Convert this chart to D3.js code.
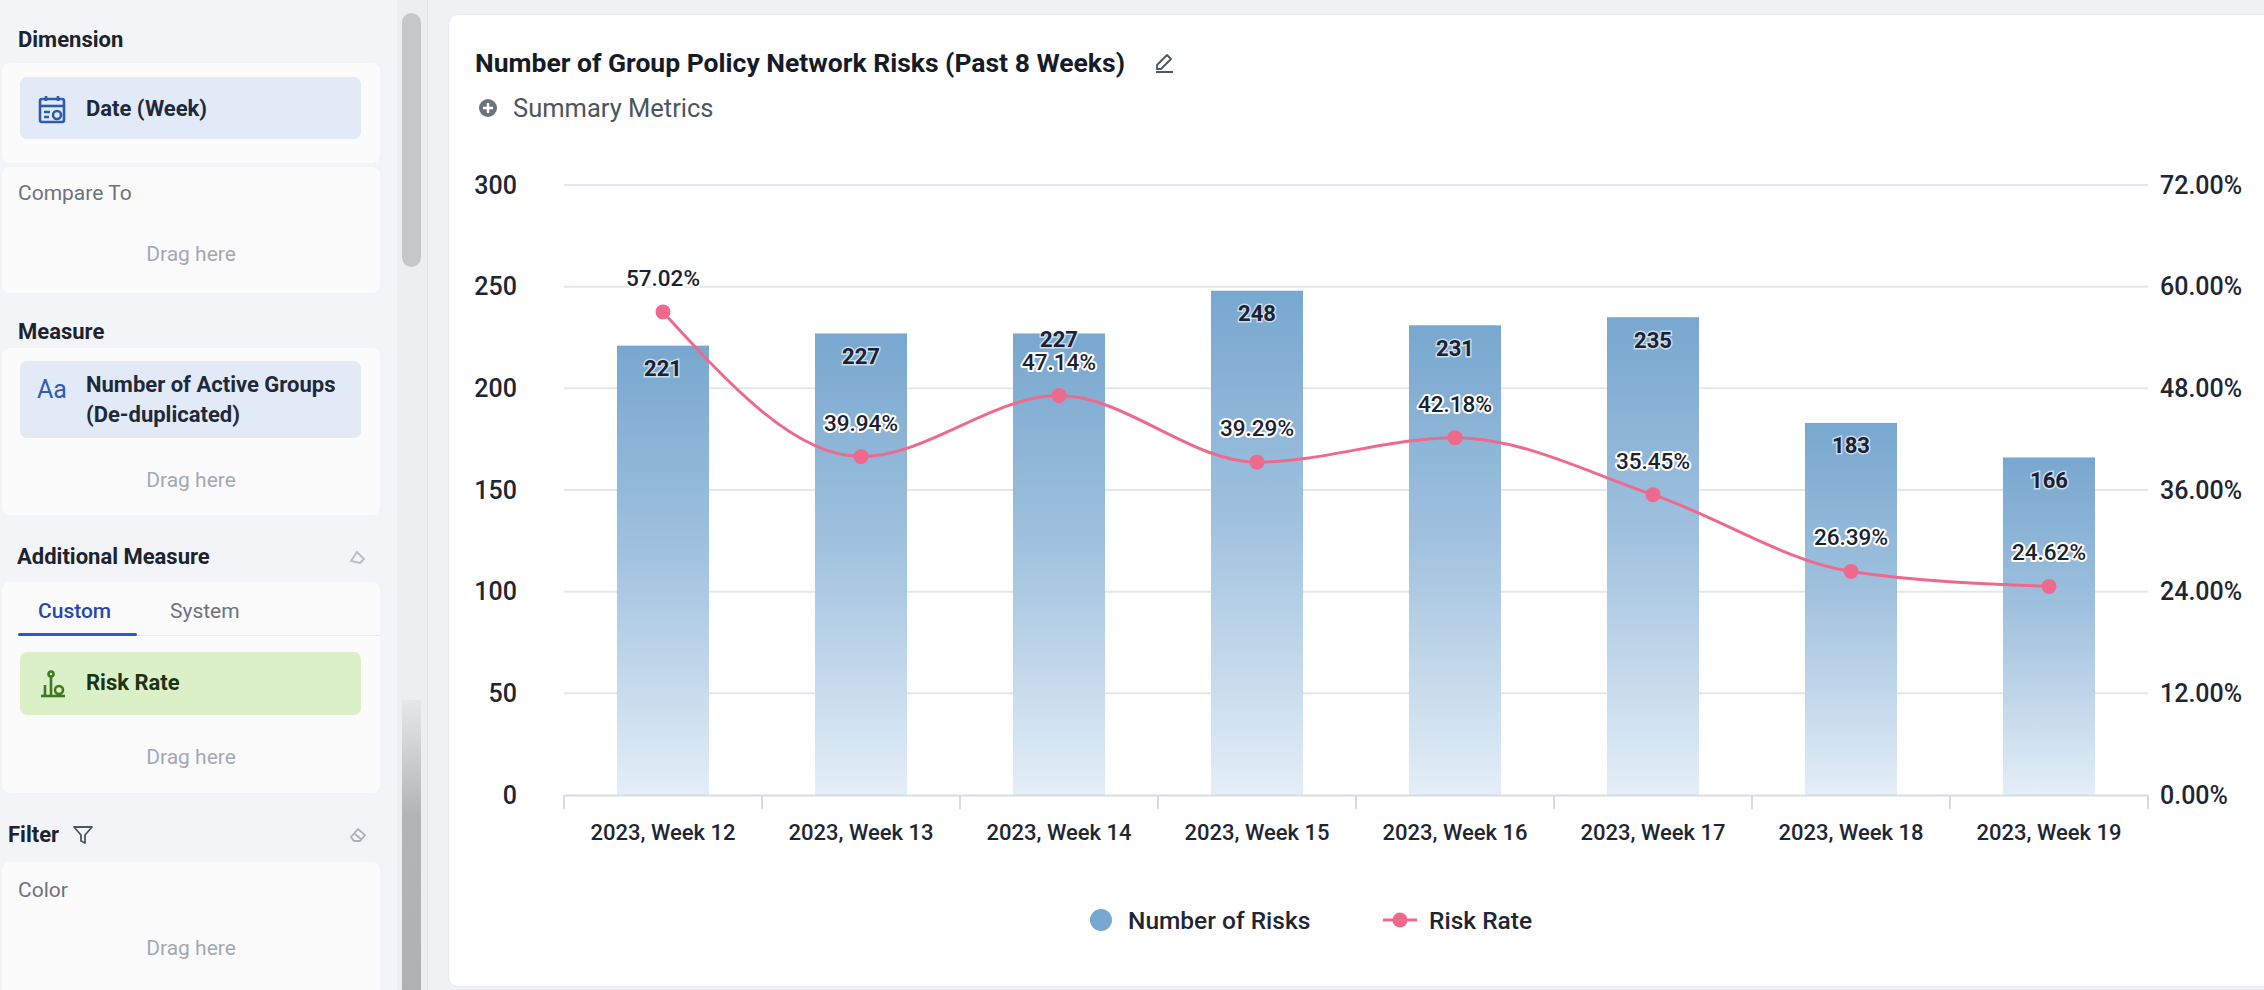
<!DOCTYPE html>
<html>
<head>
<meta charset="utf-8">
<script src="https://cdn.jsdelivr.net/npm/d3@7"></script>
<style>
  html, body { margin: 0; padding: 0; }
  body {
    width: 2264px; height: 990px; overflow: hidden; position: relative;
    background: #eff1f5; font-family: Roboto, 'Noto Sans', sans-serif; color: #1f2633;
  }
  .abs { position: absolute; white-space: nowrap; }
  #sidebar { position: absolute; left: 0; top: 0; width: 397px; height: 990px; background: #f3f4f7; }
  .card { position: absolute; left: 2px; width: 378px; background: #fbfbfc; border-radius: 8px; }
  .head { font-weight: 700; font-size: 22px; line-height: 26px; color: #1c2330; }
  .chip { position: absolute; left: 20px; width: 341px; border-radius: 7px; background: #e1eaf6; }
  .chip-text { font-weight: 700; font-size: 22px; line-height: 30px; color: #1e293b; }
  .muted { font-size: 21px; line-height: 26px; color: #6b7280; }
  .drag { font-size: 21px; line-height: 26px; color: #a3a9b3; width: 378px; text-align: center; left: 2px; }
  #scroll { position: absolute; left: 397px; top: 0; width: 30px; height: 990px; background: #eceef1; border-right: 1px solid #dfe2e7; }
  #main { position: absolute; left: 448px; top: 14px; width: 1830px; height: 971px; background: #fff;
          border: 1px solid #e7eaef; border-radius: 10px; }
  svg#chart { position: absolute; left: 0; top: 0; }
</style>
</head>
<body>
<div id="sidebar">
  <div class="abs head" style="left:18px;top:27px;">Dimension</div>
  <div class="card" style="top:63px;height:100px;"></div>
  <div class="chip" style="top:77px;height:62px;"></div>
  <svg class="abs" style="left:37px;top:94px;" width="32" height="32" viewBox="0 0 32 32">
    <g fill="none" stroke="#2f5ba8" stroke-width="2.6">
      <rect x="3" y="5" width="24" height="23" rx="2"/>
      <line x1="3" y1="12" x2="27" y2="12"/>
      <line x1="9" y1="2" x2="9" y2="7"/><line x1="21" y1="2" x2="21" y2="7"/>
      <path d="M7 18 h6 M7 23 h5"/>
      <circle cx="20" cy="21" r="4"/>
    </g>
  </svg>
  <div class="abs chip-text" style="left:86px;top:94px;">Date (Week)</div>

  <div class="card" style="top:167px;height:126px;"></div>
  <div class="abs muted" style="left:18px;top:180px;">Compare To</div>
  <div class="abs drag" style="top:241px;">Drag here</div>

  <div class="abs head" style="left:18px;top:319px;">Measure</div>
  <div class="card" style="top:348px;height:167px;"></div>
  <div class="chip" style="top:361px;height:77px;"></div>
  <div class="abs" style="left:37px;top:375px;font-size:25px;line-height:30px;color:#2e5cb8;">Aa</div>
  <div class="abs chip-text" style="left:86px;top:370px;">Number of Active Groups</div>
  <div class="abs chip-text" style="left:86px;top:400px;">(De-duplicated)</div>
  <div class="abs drag" style="top:467px;">Drag here</div>

  <div class="abs head" style="left:17px;top:544px;">Additional Measure</div>
  <svg class="abs" style="left:348px;top:547px;" width="20" height="20" viewBox="0 0 20 20">
    <path d="M3 14 L9 5 L16 12 L12 16 Z" fill="none" stroke="#b6bcc6" stroke-width="1.8"/>
  </svg>
  <div class="card" style="top:582px;height:211px;"></div>
  <div class="abs" style="left:38px;top:598px;font-size:21px;line-height:26px;font-weight:500;color:#2946a8;">Custom</div>
  <div class="abs" style="left:170px;top:598px;font-size:21px;line-height:26px;color:#6b7280;">System</div>
  <div class="abs" style="left:18px;top:635px;width:362px;height:1px;background:#e6e8ec;"></div>
  <div class="abs" style="left:18px;top:633px;width:119px;height:3px;background:#2f58c9;border-radius:2px;"></div>
  <div class="chip" style="top:652px;height:63px;background:#dcf0c8;"></div>
  <svg class="abs" style="left:37px;top:668px;" width="32" height="32" viewBox="0 0 32 32">
    <g fill="none" stroke="#3d7a20" stroke-width="2.6">
      <path d="M4 28 h24"/><path d="M8 27 v-10"/><path d="M14 27 v-18"/>
      <circle cx="14" cy="6" r="2.5"/><circle cx="22" cy="22" r="4"/>
    </g>
  </svg>
  <div class="abs chip-text" style="left:86px;top:668px;color:#1d3413;">Risk Rate</div>
  <div class="abs drag" style="top:744px;">Drag here</div>

  <div class="abs head" style="left:8px;top:822px;">Filter</div>
  <svg class="abs" style="left:72px;top:824px;" width="22" height="22" viewBox="0 0 22 22">
    <path d="M2 3 H20 L13 11 V19 L9 17 V11 Z" fill="none" stroke="#4b5563" stroke-width="1.8" stroke-linejoin="round"/>
  </svg>
  <svg class="abs" style="left:348px;top:825px;" width="20" height="20" viewBox="0 0 20 20">
    <path d="M3 12 L10 4 L17 10 L12 16 H6 Z M7 9 L13 14" fill="none" stroke="#aab0ba" stroke-width="1.8"/>
  </svg>
  <div class="card" style="top:862px;height:140px;"></div>
  <div class="abs muted" style="left:18px;top:877px;">Color</div>
  <div class="abs drag" style="top:935px;">Drag here</div>
</div>

<div id="scroll">
  <div class="abs" style="left:5px;top:13px;width:19px;height:254px;background:#c5c7cb;border-radius:10px;"></div>
  <div class="abs" style="left:5px;top:700px;width:19px;height:290px;background:linear-gradient(#e6e7e9,#b3b4b6 40%,#b0b1b3);"></div>
</div>

<div id="main"></div>

<script>
// chart values
const weeks = ['2023, Week 12', '2023, Week 13', '2023, Week 14', '2023, Week 15',
  '2023, Week 16', '2023, Week 17', '2023, Week 18', '2023, Week 19']
const riskCounts = [221, 227, 227, 248, 231, 235, 183, 166]
const riskRates = [57.02, 39.94, 47.14, 39.29, 42.18, 35.45, 26.39, 24.62]
const countTicks = [0, 50, 100, 150, 200, 250, 300]
const rateTicks = [0, 12, 24, 36, 48, 60, 72]
const legendItems = ['Number of Risks', 'Risk Rate']

const width = 2264
const height = 990
const plot = { left: 564, right: 2148, top: 185, bottom: 795 }
const barBlue = '#78a7cf'
const pink = '#ee6a8d'
const textDark = '#1f2633'

const svg = d3.select('body')
  .append('svg')
  .attr('id', 'chart')
  .attr('width', width)
  .attr('height', height)
  .style('font-family', 'Roboto, sans-serif')

const defs = svg.append('defs')
const grad = defs.append('linearGradient')
  .attr('id', 'barGrad')
  .attr('x1', 0).attr('y1', 0).attr('x2', 0).attr('y2', 1)
grad.append('stop').attr('offset', '0%').attr('stop-color', '#78a7cf')
grad.append('stop').attr('offset', '45%').attr('stop-color', '#9fc1de')
grad.append('stop').attr('offset', '100%').attr('stop-color', '#e4eef7')

// Header
svg.append('text')
  .attr('x', 475).attr('y', 62)
  .attr('dominant-baseline', 'central')
  .attr('font-size', 26.5).attr('font-weight', 700)
  .attr('fill', '#151c28')
  .text('Number of Group Policy Network Risks (Past 8 Weeks)')

const pencil = svg.append('g').attr('transform', 'translate(1154,52)')
pencil.append('path')
  .attr('d', 'M3 17 L3 13 L13 3 L17 7 L7 17 Z M2 20 H19')
  .attr('fill', 'none').attr('stroke', '#4b5563').attr('stroke-width', 1.8)
  .attr('stroke-linejoin', 'round')

svg.append('circle').attr('cx', 488).attr('cy', 108).attr('r', 9).attr('fill', '#6b7280')
svg.append('path').attr('d', 'M483 108 H493 M488 103 V113')
  .attr('stroke', '#fff').attr('stroke-width', 2.4)
svg.append('text')
  .attr('x', 513).attr('y', 108)
  .attr('dominant-baseline', 'central')
  .attr('font-size', 25.5).attr('fill', '#4b5563')
  .text('Summary Metrics')

// Scales
const x = d3.scaleBand()
  .domain(weeks)
  .range([plot.left, plot.right])
  .paddingInner(0.535)
  .paddingOuter(0.2675)
const yCount = d3.scaleLinear().domain([0, 300]).range([plot.bottom, plot.top])
const yRate = d3.scaleLinear().domain([0, 72]).range([plot.bottom, plot.top])
const cx = (i) => x(weeks[i]) + x.bandwidth() / 2

// Grid
svg.append('g')
  .selectAll('line')
  .data(countTicks.slice(1))
  .enter()
  .append('line')
  .attr('x1', plot.left).attr('x2', plot.right)
  .attr('y1', (d) => yCount(d)).attr('y2', (d) => yCount(d))
  .attr('stroke', '#e3e6ee').attr('stroke-width', 2)

// Left axis
const leftAxis = svg.append('g')
  .attr('transform', `translate(517,0)`)
  .call(d3.axisLeft(yCount).tickValues(countTicks).tickSize(0).tickPadding(0))
leftAxis.select('.domain').remove()
leftAxis.selectAll('text')
  .attr('font-size', 25).attr('font-weight', 500)
  .attr('fill', textDark).attr('font-family', 'Roboto, sans-serif')

// Right axis
const rightAxis = svg.append('g')
  .attr('transform', `translate(2160,0)`)
  .call(d3.axisRight(yRate).tickValues(rateTicks).tickSize(0).tickPadding(0)
    .tickFormat((d) => d.toFixed(2) + '%'))
rightAxis.select('.domain').remove()
rightAxis.selectAll('text')
  .attr('font-size', 25).attr('font-weight', 500)
  .attr('fill', textDark).attr('font-family', 'Roboto, sans-serif')

// Bars
svg.append('g')
  .selectAll('rect')
  .data(riskCounts)
  .enter()
  .append('rect')
  .attr('x', (d, i) => x(weeks[i]))
  .attr('y', (d) => yCount(d))
  .attr('width', x.bandwidth())
  .attr('height', (d) => yCount(0) - yCount(d))
  .attr('fill', 'url(#barGrad)')

// Bottom axis
const bottomAxis = svg.append('g')
  .attr('transform', `translate(0,${plot.bottom})`)
  .call(d3.axisBottom(x).tickSize(0).tickPadding(29))
bottomAxis.select('.domain')
  .attr('stroke', '#d7dbe3').attr('stroke-width', 2)
bottomAxis.selectAll('text')
  .attr('font-size', 22).attr('font-weight', 500)
  .attr('fill', textDark).attr('font-family', 'Roboto, sans-serif')
// band separators
const bounds = weeks.map((w) => x(w) - (x.step() - x.bandwidth()) / 2).concat([plot.right])
bottomAxis.append('g')
  .selectAll('line')
  .data(bounds)
  .enter()
  .append('line')
  .attr('x1', (d) => d).attr('x2', (d) => d)
  .attr('y1', 0).attr('y2', 14)
  .attr('stroke', '#d7dbe3').attr('stroke-width', 2)

// label positions: rate label above its point, count label inside the bar top,
// pushed up when the two would collide
const rateLabelY = riskRates.map((d) => yRate(d) - 34)
const countLabelY = riskCounts.map((d, i) => {
  const inside = yCount(d) + 23
  return Math.abs(rateLabelY[i] - inside) < 22 ? Math.min(inside, rateLabelY[i] - 22) : inside
})

// Bar labels
svg.append('g')
  .selectAll('text')
  .data(riskCounts)
  .enter()
  .append('text')
  .attr('x', (d, i) => cx(i))
  .attr('y', (d, i) => countLabelY[i])
  .attr('text-anchor', 'middle')
  .attr('dominant-baseline', 'central')
  .attr('font-size', 22).attr('font-weight', 700)
  .attr('fill', '#1a2130')
  .attr('stroke', 'rgba(255,255,255,0.6)').attr('stroke-width', 3)
  .attr('paint-order', 'stroke')
  .text((d) => d)

// Rate line
const line = d3.line()
  .x((d, i) => cx(i))
  .y((d) => yRate(d))
  .curve(d3.curveMonotoneX)

svg.append('path')
  .datum(riskRates)
  .attr('d', line)
  .attr('fill', 'none')
  .attr('stroke', pink)
  .attr('stroke-width', 3)

svg.append('g')
  .selectAll('circle')
  .data(riskRates)
  .enter()
  .append('circle')
  .attr('cx', (d, i) => cx(i))
  .attr('cy', (d) => yRate(d))
  .attr('r', 7.5)
  .attr('fill', pink)

svg.append('g')
  .selectAll('text')
  .data(riskRates)
  .enter()
  .append('text')
  .attr('x', (d, i) => cx(i))
  .attr('y', (d, i) => rateLabelY[i])
  .attr('text-anchor', 'middle')
  .attr('dominant-baseline', 'central')
  .attr('font-size', 22.5).attr('font-weight', 500)
  .attr('fill', '#1a2130')
  .attr('stroke', '#fff').attr('stroke-width', 4)
  .attr('stroke-linejoin', 'round')
  .attr('paint-order', 'stroke')
  .text((d) => d.toFixed(2) + '%')

// Legend
const legend = svg.append('g').attr('transform', 'translate(0,920)')
legend.append('circle').attr('cx', 1101).attr('cy', 0).attr('r', 11).attr('fill', barBlue)
legend.append('line').attr('x1', 1383).attr('x2', 1417).attr('y1', 0).attr('y2', 0)
  .attr('stroke', pink).attr('stroke-width', 3)
legend.append('circle').attr('cx', 1400).attr('cy', 0).attr('r', 7.5).attr('fill', pink)
legend.selectAll('text.item')
  .data(legendItems)
  .enter()
  .append('text')
  .attr('class', 'item')
  .attr('x', (d, i) => (i === 0 ? 1128 : 1429))
  .attr('y', 0)
  .attr('dominant-baseline', 'central')
  .attr('font-size', 24.5).attr('font-weight', 500)
  .attr('fill', textDark)
  .text((d) => d)
</script>
</body>
</html>
